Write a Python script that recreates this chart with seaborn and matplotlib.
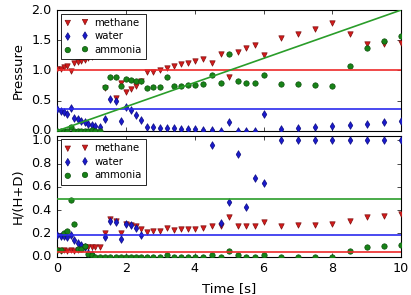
import numpy as np
import pandas as pd
import seaborn as sns
import matplotlib
matplotlib.use("Agg")
import matplotlib.pyplot as plt

nan = np.nan

# sample times [s]
time = [0.0, 0.1, 0.2, 0.3, 0.4, 0.5, 0.6, 0.7, 0.8, 0.9, 1.0, 1.1,
        1.25,
        1.4, 1.55, 1.7, 1.85, 2.0, 2.15, 2.3, 2.45,
        2.6, 2.8, 3.0, 3.2, 3.4, 3.6, 3.8, 4.0,
        4.25, 4.5, 4.75, 5.0, 5.25, 5.5, 5.75, 6.0,
        6.5, 7.0, 7.5, 8.0, 8.5, 9.0, 9.5, 10.0]

# pressure
p_methane = [1.02, 1.03, 1.06, 1.07, 0.99, 1.13, 1.14, 1.16, 1.18, 1.2, 1.22, 1.25,
             1.27,
             0.71, nan, 0.54, 0.79, 0.64, 0.69, 0.75, 0.83,
             0.97, 0.98, 1.01, 1.04, 1.07, 1.11, 1.13, 1.15,
             1.19, 1.13, 1.27, 0.89, 1.31, 1.38, 1.42, 1.25,
             1.54, 1.61, 1.69, 1.78, 1.61, 1.43, 1.43, 1.46]
p_water = [0.36, 0.33, 0.31, 0.28, 0.38, 0.22, 0.2, 0.17, 0.14, 0.11, 0.09, 0.08,
           0.07,
           0.2, 0.53, 0.49, 0.16, 0.4, 0.35, 0.27, 0.18,
           0.07, 0.06, 0.05, 0.05, 0.05, 0.04, 0.03, 0.03,
           0.02, 0.01, 0.0, 0.15, 0.0, 0.0, 0.0, 0.28,
           0.04, 0.05, 0.07, 0.08, 0.1, 0.12, 0.15, 0.17]
p_ammonia = [0.0, 0.0, 0.0, 0.0, 0.07, 0.0, 0.0, 0.0, 0.0, 0.0, 0.01, 0.0,
             0.0,
             0.73, 0.89, 0.89, 0.75, 0.86, 0.84, 0.83, 0.82,
             0.71, 0.72, 0.72, 0.9, 0.75, 0.75, 0.76, 0.76,
             0.78, 0.92, 0.79, 1.27, 0.83, 0.8, 0.8, 0.93,
             0.77, 0.77, 0.76, 0.75, 1.07, 1.38, 1.48, 1.57]

# H/(H+D)
h_methane = [0.06, 0.05, 0.06, 0.05, 0.06, 0.05, 0.06, 0.08, 0.08, 0.08, 0.08, 0.08,
             0.08,
             0.2, 0.32, 0.31, 0.2, 0.28, 0.27, 0.26, 0.24,
             0.21, 0.22, 0.22, 0.25, 0.23, 0.24, 0.24, 0.24,
             0.25, 0.26, 0.26, 0.34, 0.26, 0.26, 0.26, 0.30,
             0.26, 0.27, 0.27, 0.28, 0.31, 0.34, 0.35, 0.37]
h_water = [0.19, 0.18, 0.18, 0.17, 0.19, 0.14, 0.12, 0.10, 0.08, 0.03, 0.02, nan,
           nan,
           0.17, 0.31, 0.3, 0.15, 0.28, 0.27, 0.25, 0.19,
           nan, nan, nan, nan, nan, nan, nan, nan,
           nan, 0.96, 0.29, 0.47, 0.88, 0.43, 0.68, 0.63,
           1.0, 1.0, 1.0, 1.0, 1.0, 1.0, 1.0, 1.0]
h_ammonia = [0.06, 0.06, 0.2, 0.22, 0.49, 0.28, 0.07, 0.07, 0.09, 0.02, 0.01, 0.0,
             0.0,
             0.0, 0.0, 0.0, 0.0, 0.0, 0.0, 0.0, 0.0,
             0.0, 0.0, 0.0, 0.015, 0.0, 0.0, 0.0, 0.0,
             0.0, 0.015, 0.0, 0.05, 0.01, 0.0, 0.0, 0.01,
             0.0, 0.0, 0.0, 0.0, 0.045, 0.08, 0.09, 0.1]

# reference lines
p_ref = {"methane": 1.0, "water": 0.37}
h_ref = {"methane": 0.04, "water": 0.19, "ammonia": 0.5}
fit_t = [0, 10]
fit_p = [0, 2]

species = ["methane", "water", "ammonia"]
face = {"methane": "#d41a1a", "water": "#1a1acc", "ammonia": "#178317"}
edge = {"methane": "#801010", "water": "#0c0c80", "ammonia": "#0b4d0b"}
line_col = {"methane": "#ee2a2a", "water": "#2a2aee", "ammonia": "#2a9d2a"}
marks = {"methane": "v", "water": "d", "ammonia": "o"}

plt.style.use("classic")
plt.rcParams.update({
    "figure.facecolor": "white",
    "savefig.facecolor": "white",
    "font.size": 9.5,
    "axes.labelsize": 9.5,
    "xtick.labelsize": 9.2,
    "ytick.labelsize": 9.2,
    "xtick.major.size": 3,
    "ytick.major.size": 3,
    "axes.linewidth": 0.8,
})

fig, (ax1, ax2) = plt.subplots(2, 1, sharex=True, figsize=(4.11, 2.95), dpi=100)
fig.subplots_adjust(left=0.139, right=0.976, top=0.966, bottom=0.130, hspace=0.04)

top = {"methane": p_methane, "water": p_water, "ammonia": p_ammonia}
bot = {"methane": h_methane, "water": h_water, "ammonia": h_ammonia}

for ax, vals in [(ax1, top), (ax2, bot)]:
    for sp in species:
        sns.scatterplot(x=time, y=vals[sp], marker=marks[sp], color=face[sp],
                        edgecolor=edge[sp], linewidth=0.5, s=15, label=sp, ax=ax,
                        zorder=3)

for sp, v in p_ref.items():
    ax1.axhline(v, color=line_col[sp], lw=1.2, zorder=4)
sns.lineplot(x=fit_t, y=fit_p, color=line_col["ammonia"], lw=1.2, ax=ax1, zorder=4)
for sp, v in h_ref.items():
    ax2.axhline(v, color=line_col[sp], lw=1.2, zorder=4)

ax1.set_ylim(0, 2)
ax1.set_yticks([0, 0.5, 1.0, 1.5, 2.0])
ax2.set_ylim(0, 1.04)
ax2.set_yticks([0, 0.2, 0.4, 0.6, 0.8, 1.0])
ax2.set_xlim(0, 10)
ax2.set_xticks([0, 2, 4, 6, 8, 10])
ax1.set_ylabel("Pressure")
ax2.set_ylabel("H/(H+D)")
ax2.set_xlabel("Time [s]")
ax1.yaxis.set_major_formatter(matplotlib.ticker.FormatStrFormatter("%.1f"))
ax2.yaxis.set_major_formatter(matplotlib.ticker.FormatStrFormatter("%.1f"))

for ax in (ax1, ax2):
    leg = ax.legend(loc="upper left", scatterpoints=2, fontsize=7.3, borderpad=0.4,
                    handlelength=2.3, handletextpad=0.6, labelspacing=0.35,
                    fancybox=False, borderaxespad=0.35, framealpha=1)
    leg.set_zorder(10)
    leg.get_frame().set_linewidth(0.6)

plt.savefig("out.png", dpi=100)
